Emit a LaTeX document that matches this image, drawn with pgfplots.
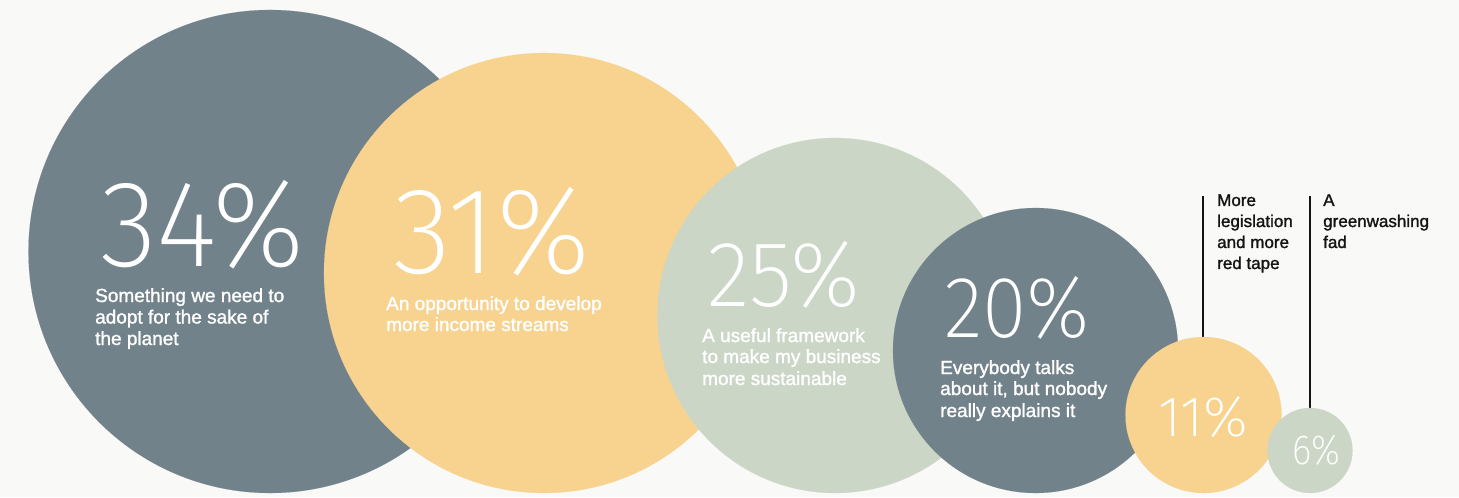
\documentclass[border=0pt]{standalone}
\usepackage{pgfplots}
\pgfplotsset{compat=1.18}
\usepackage{pgfplotstable}
\usepackage{fontspec}
\setmainfont{Liberation Sans}
\newfontfamily\medfont[FakeBold=1.4]{Liberation Sans}
\newfontfamily\thinfont{Fira Sans ExtraLight}
\definecolor{bgc}{HTML}{F9F9F7}
\definecolor{slate}{HTML}{72828A}
\definecolor{yel}{HTML}{F7D38F}
\definecolor{sage}{HTML}{CBD6C6}
\definecolor{ink}{HTML}{141414}

\tikzset{
  num/.style={anchor=base west, inner sep=0, text=white, text depth=0pt},
  lab/.style={anchor=base west, inner sep=0, text=white, font=\medfont\fontsize{19bp}{21bp}\selectfont},
  blab/.style={anchor=base west, inner sep=0, text=ink, font=\medfont\fontsize{17bp}{21bp}\selectfont}}

% circle centres and radii (1 unit = 1bp), radius proportional to share
\pgfplotstableread{
x y r c
270 245.5 241.5 a
544 224 220 b
835 181.5 177.5 c
1035.5 146.5 142.5 a
1203.5 82 78 b
1310 46.5 42.5 c
}\bubbles

\begin{document}
\begin{tikzpicture}
\begin{axis}[scale only axis, width=1459bp, height=497bp,
  xmin=0, xmax=1459, ymin=0, ymax=497,
  axis line style={draw=none}, ticks=none, set layers,
  axis background/.style={fill=bgc}, clip=false]
\addplot[scatter, only marks, scatter src=explicit symbolic,
  scatter/classes={a={mark=*,slate}, b={mark=*,yel}, c={mark=*,sage}},
  mark options={line width=0.1pt},
  visualization depends on={1.00375*\thisrow{r} \as \rad},
  scatter/@pre marker code/.append style={/tikz/mark size=\rad}]
  table[x=x, y=y, meta=c]{\bubbles};
\addplot[ink, line width=1.2bp] coordinates {(1203,301) (1203,160)};
\addplot[ink, line width=1.2bp] coordinates {(1310,301) (1310,89)};

\begin{pgfonlayer}{axis foreground}
\node[num, xscale=0.96, font=\thinfont\fontsize{123bp}{123bp}\selectfont] at (axis cs:100,230) {34\%};
\node[num, xscale=0.98, font=\thinfont\fontsize{123bp}{123bp}\selectfont] at (axis cs:393,223) {31\%};
\node[num, xscale=0.96, font=\thinfont\fontsize{93bp}{93bp}\selectfont] at (axis cs:707,191) {25\%};
\node[num, xscale=0.93, font=\thinfont\fontsize{87bp}{87bp}\selectfont] at (axis cs:944,160) {20\%};
\node[num, font=\thinfont\fontsize{57bp}{57bp}\selectfont] at (axis cs:1158,61) {11\%};
\node[num, xscale=0.88, font=\thinfont\fontsize{42bp}{42bp}\selectfont] at (axis cs:1292,33) {6\%};

\node[lab] at (axis cs:95,195) {Something we need to};
\node[lab] at (axis cs:95,173.5) {adopt for the sake of};
\node[lab] at (axis cs:95,152) {the planet};

\node[lab] at (axis cs:386,187) {An opportunity to develop};
\node[lab] at (axis cs:386,166) {more income streams};

\node[lab] at (axis cs:702,155) {A useful framework};
\node[lab] at (axis cs:702,134) {to make my business};
\node[lab] at (axis cs:702,112) {more sustainable};

\node[lab] at (axis cs:940,123) {Everybody talks};
\node[lab] at (axis cs:940,102) {about it, but nobody};
\node[lab] at (axis cs:940,80) {really explains it};

\node[blab] at (axis cs:1217,291) {More};
\node[blab] at (axis cs:1217,270) {legislation};
\node[blab] at (axis cs:1217,249) {and more};
\node[blab] at (axis cs:1217,228) {red tape};

\node[blab] at (axis cs:1323,291) {A};
\node[blab] at (axis cs:1323,270) {greenwashing};
\node[blab] at (axis cs:1323,249) {fad};
\end{pgfonlayer}
\end{axis}
\end{tikzpicture}
\end{document}
